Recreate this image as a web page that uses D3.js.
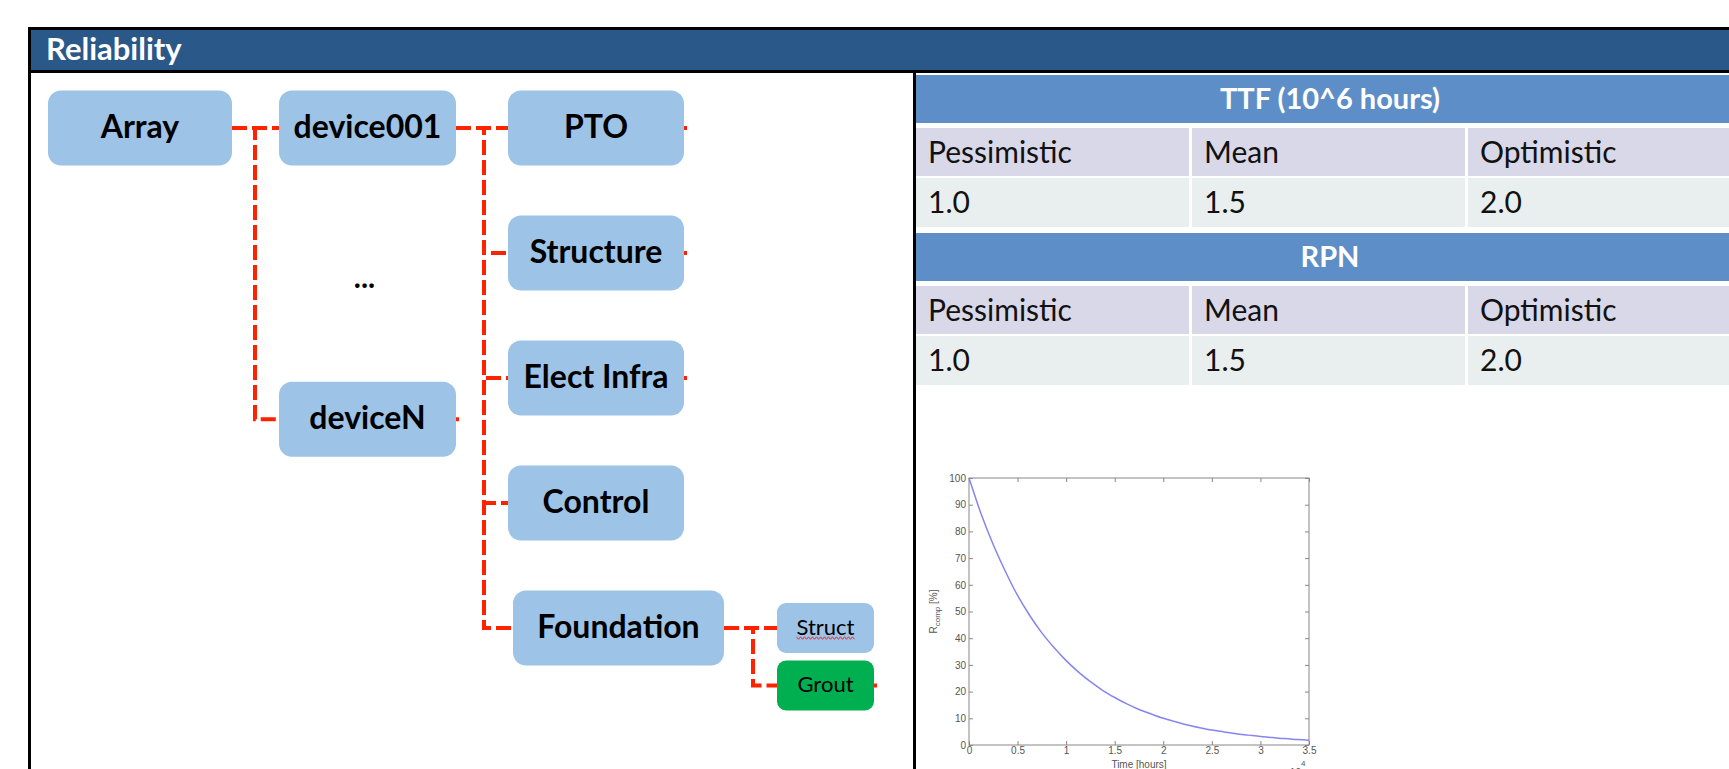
<!DOCTYPE html>
<meta charset="utf-8">
<style>

body {
  margin: 0;
  background: #fff;
}

svg {
  display: block;
  font-family: Lato, "Open Sans", sans-serif;
}

.link {
  fill: none;
  stroke: #ff2200;
  stroke-width: 4px;
  stroke-dasharray: 15,5;
}

.stub {
  stroke: #ff2200;
  stroke-width: 4px;
}

.node text {
  text-anchor: middle;
  fill: #000;
}

.cell {
  font-size: 30px;
  fill: #111;
}

.head {
  font-size: 29px;
  font-weight: bold;
  fill: #fff;
  text-anchor: middle;
}

.axis text {
  font-family: "Liberation Sans", Arial, sans-serif;
  font-size: 10px;
  fill: #555;
}

.axis line {
  stroke: #888;
}

</style>
<svg width="1729" height="769"></svg>
<script src="https://d3js.org/d3.v7.min.js"></script>
<script>

// tree of components
var nodeNames   = ["Array", "device001", "deviceN", "PTO", "Structure", "Elect Infra", "Control", "Foundation", "Struct", "Grout"];
var nodeParents = [null, "Array", "Array", "device001", "device001", "device001", "device001", "device001", "Foundation", "Foundation"];
var nodeLevels  = [0, 1, 1, 2, 2, 2, 2, 2, 3, 3];
var nodeRows    = [0, 0, 2.33, 0, 1, 2, 3, 4, 4, 4.46];
var collapsed   = ["deviceN", "PTO", "Structure", "Elect Infra", "Grout"];
var highlighted = ["Grout"];
var underlined  = ["Struct"];
var gapLabel = "...", gapRow = 1.28;

// table
var scenarios = ["Pessimistic", "Mean", "Optimistic"];
var ttfTitle = "TTF (10^6 hours)";
var ttfValues = [1.0, 1.5, 2.0];
var rpnTitle = "RPN";
var rpnValues = [1.0, 1.5, 2.0];

// reliability curve (time in hours, R in %)
var timeHours = [0, 1250, 2500, 3750, 5000, 6250, 7500, 8750, 10000, 11250, 12500, 13750, 15000, 16250,
                 17500, 18750, 20000, 21250, 22500, 23750, 25000, 26250, 27500, 28750, 30000, 31250, 32500, 33750, 35000];
var reliability = [100, 86.5, 75, 65, 56, 48.5, 42, 36.5, 31.6, 27.4, 23.7, 20.5, 17.8, 15.4,
                   13.3, 11.6, 10.0, 8.7, 7.5, 6.5, 5.6, 4.9, 4.2, 3.7, 3.2, 2.8, 2.4, 2.1, 1.8];
var xTicks = [0, 5000, 10000, 15000, 20000, 25000, 30000, 35000];
var yTicks = [0, 10, 20, 30, 40, 50, 60, 70, 80, 90, 100];

var svg = d3.select("svg"),
    width = +svg.attr("width"),
    height = +svg.attr("height");

// frame + title bar
svg.append("rect").attr("x", 28).attr("y", 27).attr("width", width).attr("height", height).attr("fill", "#000");
svg.append("rect").attr("x", 31).attr("y", 30).attr("width", width).attr("height", 40).attr("fill", "#295889");
svg.append("rect").attr("x", 31).attr("y", 73).attr("width", 882).attr("height", height).attr("fill", "#fff");
svg.append("rect").attr("x", 916).attr("y", 73).attr("width", width).attr("height", height).attr("fill", "#fff");
svg.append("text")
    .attr("x", 46).attr("y", 60)
    .style("font-size", "31px").style("font-weight", "bold").style("fill", "#fff")
    .text("Reliability");

// ---- tree diagram ----
var table = nodeNames.map(function(n, i) {
  return {id: n, parentId: nodeParents[i], level: nodeLevels[i], row: nodeRows[i]};
});
var root = d3.stratify()(table);

var rowY = d3.scaleLinear().domain([0, 4]).range([128, 628]);
var colX = d3.scaleOrdinal().domain([0, 1, 2, 3]).range([48, 279, 508, 777]);
var colW = d3.scaleOrdinal().domain([0, 1, 2, 3]).range([184, 177, 176, 97]);
var wideBox = {"Foundation": [5, 211]};

root.each(function(d) {
  var wide = wideBox[d.id];
  d.left = colX(d.data.level) + (wide ? wide[0] : 0);
  d.w = wide ? wide[1] : colW(d.data.level);
  d.h = d.data.level < 3 ? 75 : 50;
  d.cy = rowY(d.data.row);
});

var tree = svg.append("g");

tree.selectAll(".link")
  .data(root.links())
  .enter().append("path")
    .attr("class", "link")
    .attr("d", function(l) {
      var jx = colX(l.target.data.level) - 24;
      return "M" + (l.source.left + l.source.w) + "," + l.source.cy +
             "H" + jx + "V" + l.target.cy + "H" + l.target.left;
    });

var node = tree.selectAll(".node")
  .data(root.descendants())
  .enter().append("g")
    .attr("class", "node");

node.filter(function(d) { return collapsed.indexOf(d.id) >= 0; })
  .append("line")
    .attr("class", "stub")
    .attr("x1", function(d) { return d.left + d.w - 1; })
    .attr("x2", function(d) { return d.left + d.w + 3; })
    .attr("y1", function(d) { return d.cy; })
    .attr("y2", function(d) { return d.cy; });

node.append("rect")
    .attr("x", function(d) { return d.left; })
    .attr("y", function(d) { return d.cy - d.h / 2; })
    .attr("width", function(d) { return d.w; })
    .attr("height", function(d) { return d.h; })
    .attr("rx", function(d) { return d.data.level < 3 ? 13 : 9; })
    .attr("fill", function(d) { return highlighted.indexOf(d.id) >= 0 ? "#00b050" : "#9dc3e6"; });

node.append("text")
    .attr("x", function(d) { return d.left + d.w / 2; })
    .attr("y", function(d) { return d.cy; })
    .attr("dy", "0.31em")
    .style("font-size", function(d) { return d.data.level < 3 ? "32px" : "22px"; })
    .style("font-weight", function(d) { return d.data.level < 3 ? "bold" : "normal"; })
    .text(function(d) { return d.id; });

// spell-check squiggle
node.filter(function(d) { return underlined.indexOf(d.id) >= 0; })
  .each(function() {
    var bb = d3.select(this).select("text").node().getBBox();
    var pts = [], y0 = bb.y + bb.height - 2;
    for (var x = bb.x, k = 0; x <= bb.x + bb.width; x += 2, k++) pts.push([x, y0 + (k % 2 ? 1.5 : -1)]);
    d3.select(this).append("path")
        .attr("d", d3.line()(pts))
        .attr("fill", "none").attr("stroke", "#e03030").attr("stroke-width", 1);
  });

tree.append("text")
    .attr("x", colX(1) + colW(1) / 2 - 3)
    .attr("y", rowY(gapRow))
    .style("font-size", "30px").style("font-weight", "bold")
    .attr("text-anchor", "middle")
    .text(gapLabel);

// ---- table ----
var colScale = d3.scaleBand().domain(scenarios).range([916, 1744]);
var secTop = d3.scaleLinear().domain([0, 1]).range([75, 233]);
var fmt = d3.format(".1f");
var sections = [{title: ttfTitle, values: ttfValues}, {title: rpnTitle, values: rpnValues}];

sections.forEach(function(s, i) {
  var top = secTop(i);
  var g = svg.append("g");
  g.append("rect")
      .attr("x", colScale.range()[0]).attr("y", top)
      .attr("width", colScale.range()[1] - colScale.range()[0]).attr("height", 48)
      .attr("fill", "#5e8ec7");
  g.append("text")
      .attr("class", "head")
      .attr("x", (colScale.range()[0] + colScale.range()[1]) / 2)
      .attr("y", top + 24).attr("dy", "0.36em")
      .text(s.title);

  var cols = g.selectAll(".col")
    .data(scenarios)
    .enter().append("g");

  cols.append("rect")
      .attr("x", function(d) { return colScale(d); })
      .attr("y", top + 53)
      .attr("width", colScale.bandwidth() - 3).attr("height", 48)
      .attr("fill", "#d9d8e8");
  cols.append("text")
      .attr("class", "cell")
      .attr("x", function(d) { return colScale(d) + 12; })
      .attr("y", top + 77).attr("dy", "0.36em")
      .text(function(d) { return d; });

  cols.append("rect")
      .attr("x", function(d) { return colScale(d); })
      .attr("y", top + 103)
      .attr("width", colScale.bandwidth() - 3).attr("height", 49)
      .attr("fill", "#e8efee");
  cols.append("text")
      .attr("class", "cell")
      .attr("x", function(d) { return colScale(d) + 12; })
      .attr("y", top + 127).attr("dy", "0.36em")
      .text(function(d, j) { return fmt(s.values[j]); });
});

// ---- reliability plot ----
var x = d3.scaleLinear().domain([0, 35000]).range([969, 1309]);
var y = d3.scaleLinear().domain([0, 100]).range([745, 478]);

var plot = svg.append("g");

plot.append("rect")
    .attr("x", x.range()[0]).attr("y", y.range()[1])
    .attr("width", x.range()[1] - x.range()[0]).attr("height", y.range()[0] - y.range()[1])
    .attr("fill", "#fff").attr("stroke", "#888").attr("stroke-width", 1);

function noDomain(g) { g.select(".domain").remove(); }

plot.append("g").attr("class", "axis")
    .attr("transform", "translate(0," + y.range()[0] + ")")
    .call(d3.axisBottom(x).tickValues(xTicks).tickSizeInner(-4).tickSizeOuter(0).tickPadding(2)
      .tickFormat(function(d) { return d / 1e4; }))
    .call(noDomain);
plot.append("g").attr("class", "axis")
    .attr("transform", "translate(0," + y.range()[1] + ")")
    .call(d3.axisTop(x).tickValues(xTicks).tickSizeInner(-4).tickSizeOuter(0).tickFormat(""))
    .call(noDomain);
plot.append("g").attr("class", "axis")
    .attr("transform", "translate(" + x.range()[0] + ",0)")
    .call(d3.axisLeft(y).tickValues(yTicks).tickSizeInner(-4).tickSizeOuter(0).tickPadding(3))
    .call(noDomain);
plot.append("g").attr("class", "axis")
    .attr("transform", "translate(" + x.range()[1] + ",0)")
    .call(d3.axisRight(y).tickValues(yTicks).tickSizeInner(-4).tickSizeOuter(0).tickFormat(""))
    .call(noDomain);

plot.append("path")
    .datum(timeHours.map(function(t, i) { return [t, reliability[i]]; }))
    .attr("fill", "none")
    .attr("stroke", "#8585f2")
    .attr("stroke-width", 1.5)
    .attr("d", d3.line()
      .x(function(d) { return x(d[0]); })
      .y(function(d) { return y(d[1]); })
      .curve(d3.curveMonotoneX));

var labels = plot.append("g").attr("class", "axis");
labels.append("text")
    .attr("x", (x.range()[0] + x.range()[1]) / 2).attr("y", 768)
    .attr("text-anchor", "middle")
    .text("Time [hours]");
var yl = labels.append("text")
    .attr("transform", "translate(937," + (y.range()[0] + y.range()[1]) / 2 + ") rotate(-90)")
    .attr("text-anchor", "middle");
yl.append("tspan").text("R");
yl.append("tspan").attr("dy", 3).style("font-size", "8px").text("comp");
yl.append("tspan").attr("dy", -3).text(" [%]");
labels.append("text").attr("x", 1284).attr("y", 776).text("\u00d710");
labels.append("text").attr("x", 1301).attr("y", 766).style("font-size", "8px").text("4");

</script>
